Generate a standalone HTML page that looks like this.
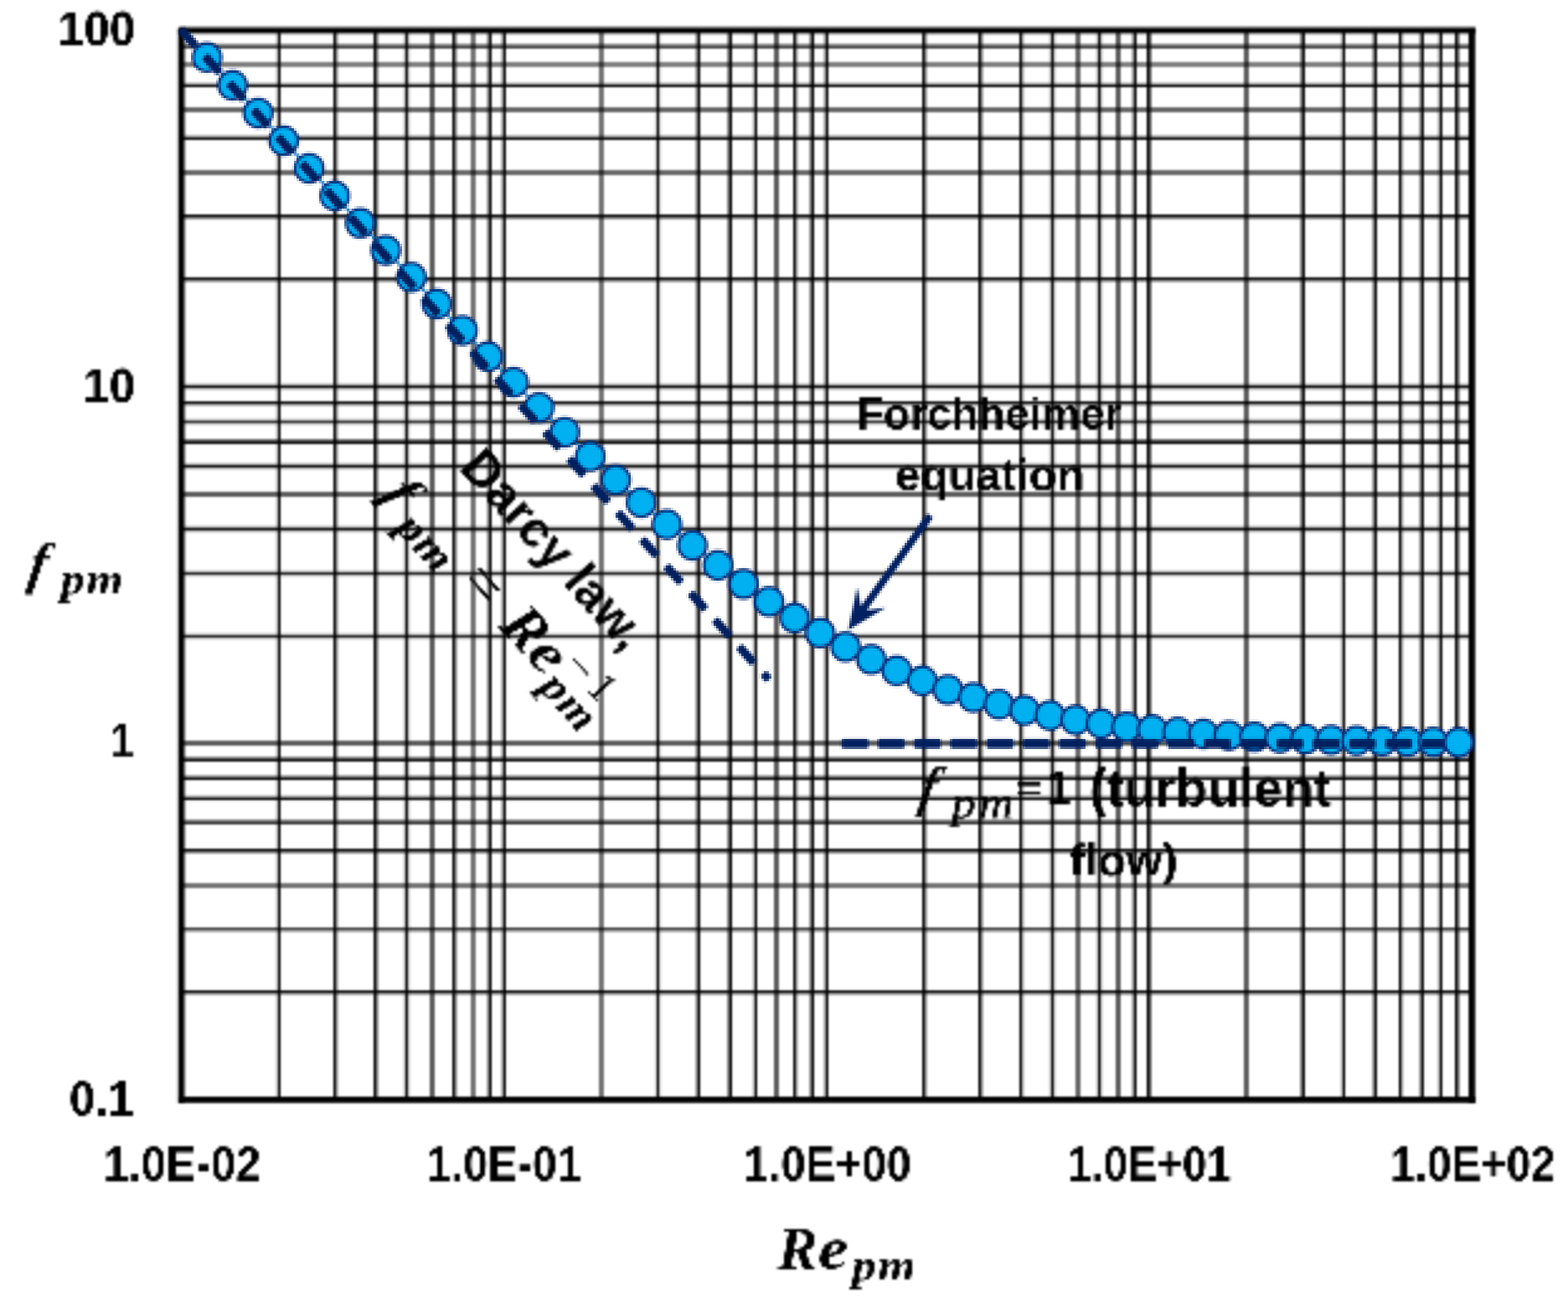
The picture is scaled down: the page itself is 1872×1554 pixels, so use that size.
<!DOCTYPE html>
<html lang="en"><head><meta charset="utf-8"><title>Friction factor vs Reynolds number in porous media</title>
<style>
html,body{margin:0;padding:0;background:#fff;}
body{width:1872px;height:1554px;overflow:hidden;}
svg{display:block;}
text{white-space:pre;}
.t{font-family:"Liberation Sans",sans-serif;font-weight:bold;fill:#000;}
.m{font-family:"Liberation Serif",serif;font-weight:bold;font-style:italic;fill:#000;}
.mi{font-family:"Liberation Serif",serif;font-weight:normal;font-style:italic;fill:#000;}
.mr{font-family:"Liberation Serif",serif;font-weight:normal;font-style:normal;fill:#000;}
.mb{font-family:"Liberation Serif",serif;font-weight:bold;font-style:normal;fill:#000;}
</style></head><body>
<svg xmlns="http://www.w3.org/2000/svg" width="1872" height="1554" viewBox="0 0 1872 1554">
<defs>
<clipPath id="plot"><rect x="216.70" y="36.20" width="1540.60" height="1276.70"/></clipPath>
<clipPath id="plotfull"><rect x="212.70" y="32.20" width="1548.60" height="1284.70"/></clipPath>
<filter id="lowres" x="204" y="24" width="1566" height="894" filterUnits="userSpaceOnUse" color-interpolation-filters="sRGB">
<feGaussianBlur in="SourceGraphic" stdDeviation="0.90" result="po"/>
<feFlood x="205" y="25" width="1" height="1" flood-color="#000" result="dot"/>
<feComposite in="dot" in2="dot" operator="over" x="204" y="24" width="3" height="3" result="cell"/>
<feTile in="cell" x="204" y="24" width="1566" height="894" result="grid"/>
<feComposite in="po" in2="grid" operator="in" result="samp"/>
<feMorphology in="samp" operator="dilate" radius="1" result="pix"/>
</filter>
<filter id="lowrest" x="0" y="0" width="1872" height="1554" filterUnits="userSpaceOnUse" color-interpolation-filters="sRGB">
<feFlood x="1" y="1" width="1" height="1" flood-color="#000" result="dot"/>
<feComposite in="dot" in2="dot" operator="over" x="0" y="0" width="3" height="3" result="cell"/>
<feTile in="cell" x="0" y="0" width="1872" height="1554" result="grid"/>
<feComposite in="SourceGraphic" in2="grid" operator="in" result="samp"/>
<feMorphology in="samp" operator="dilate" radius="1" result="pix"/>
<feGaussianBlur in="pix" stdDeviation="0.80" result="bl"/>
</filter>
<filter id="soft" x="204" y="24" width="1566" height="1302" filterUnits="userSpaceOnUse" color-interpolation-filters="sRGB">
<feGaussianBlur in="SourceGraphic" stdDeviation="0.80"/>
</filter>
</defs>
<rect x="0" y="0" width="1872" height="1554" fill="#fff"/>
<g id="gridlayer" filter="url(#soft)">
<g id="grid" fill="#000">
<rect x="216.70" y="1182.00" width="1540.60" height="3.00" fill-opacity="0.96"/>
<rect x="216.70" y="1185.00" width="1540.60" height="3.00" fill-opacity="0.35"/>
<rect x="216.70" y="1107.00" width="1540.60" height="3.00" fill-opacity="0.75"/>
<rect x="216.70" y="1110.00" width="1540.60" height="3.00" fill-opacity="0.30"/>
<rect x="216.70" y="1054.00" width="1540.60" height="6.00" fill-opacity="0.55"/>
<rect x="216.70" y="1013.00" width="1540.60" height="3.00" fill-opacity="0.96"/>
<rect x="216.70" y="1016.00" width="1540.60" height="3.00" fill-opacity="0.45"/>
<rect x="216.70" y="978.00" width="1540.60" height="3.00" fill-opacity="0.50"/>
<rect x="216.70" y="981.00" width="1540.60" height="3.00" fill-opacity="0.80"/>
<rect x="216.70" y="949.00" width="1540.60" height="3.00" fill-opacity="0.30"/>
<rect x="216.70" y="952.00" width="1540.60" height="3.00" fill-opacity="0.96"/>
<rect x="216.70" y="925.00" width="1540.60" height="3.00" fill-opacity="0.40"/>
<rect x="216.70" y="928.00" width="1540.60" height="3.00" fill-opacity="0.96"/>
<rect x="216.70" y="903.00" width="1540.60" height="3.00" fill-opacity="0.50"/>
<rect x="216.70" y="906.00" width="1540.60" height="3.00" fill-opacity="0.96"/>
<rect x="216.70" y="884.00" width="1540.60" height="6.00" fill-opacity="0.64"/>
<rect x="216.70" y="755.00" width="1540.60" height="3.00" fill-opacity="0.15"/>
<rect x="216.70" y="758.00" width="1540.60" height="3.00" fill-opacity="0.88"/>
<rect x="216.70" y="761.00" width="1540.60" height="3.00" fill-opacity="0.15"/>
<rect x="216.70" y="680.00" width="1540.60" height="3.00" fill-opacity="0.15"/>
<rect x="216.70" y="683.00" width="1540.60" height="3.00" fill-opacity="0.88"/>
<rect x="216.70" y="686.00" width="1540.60" height="3.00" fill-opacity="0.15"/>
<rect x="216.70" y="627.00" width="1540.60" height="3.00" fill-opacity="0.20"/>
<rect x="216.70" y="630.00" width="1540.60" height="3.00" fill-opacity="0.96"/>
<rect x="216.70" y="633.00" width="1540.60" height="3.00" fill-opacity="0.20"/>
<rect x="216.70" y="587.00" width="1540.60" height="6.00" fill-opacity="0.64"/>
<rect x="216.70" y="552.00" width="1540.60" height="3.00" fill-opacity="0.20"/>
<rect x="216.70" y="555.00" width="1540.60" height="3.00" fill-opacity="0.96"/>
<rect x="216.70" y="558.00" width="1540.60" height="3.00" fill-opacity="0.20"/>
<rect x="216.70" y="524.00" width="1540.60" height="3.00" fill-opacity="0.60"/>
<rect x="216.70" y="527.00" width="1540.60" height="3.00" fill-opacity="0.96"/>
<rect x="216.70" y="499.00" width="1540.60" height="3.00" fill-opacity="0.15"/>
<rect x="216.70" y="502.00" width="1540.60" height="3.00" fill-opacity="0.80"/>
<rect x="216.70" y="505.00" width="1540.60" height="3.00" fill-opacity="0.15"/>
<rect x="216.70" y="479.00" width="1540.60" height="3.00" fill-opacity="0.96"/>
<rect x="216.70" y="482.00" width="1540.60" height="3.00" fill-opacity="0.30"/>
<rect x="216.70" y="457.00" width="1540.60" height="3.00" fill-opacity="0.20"/>
<rect x="216.70" y="460.00" width="1540.60" height="3.00" fill-opacity="0.96"/>
<rect x="216.70" y="463.00" width="1540.60" height="3.00" fill-opacity="0.20"/>
<rect x="216.70" y="331.00" width="1540.60" height="3.00" fill-opacity="0.96"/>
<rect x="216.70" y="334.00" width="1540.60" height="3.00" fill-opacity="0.40"/>
<rect x="216.70" y="256.00" width="1540.60" height="3.00" fill-opacity="0.96"/>
<rect x="216.70" y="259.00" width="1540.60" height="3.00" fill-opacity="0.45"/>
<rect x="216.70" y="203.00" width="1540.60" height="6.00" fill-opacity="0.60"/>
<rect x="216.70" y="161.00" width="1540.60" height="3.00" fill-opacity="0.30"/>
<rect x="216.70" y="164.00" width="1540.60" height="3.00" fill-opacity="0.96"/>
<rect x="216.70" y="128.00" width="1540.60" height="6.00" fill-opacity="0.60"/>
<rect x="216.70" y="98.00" width="1540.60" height="3.00" fill-opacity="0.25"/>
<rect x="216.70" y="101.00" width="1540.60" height="3.00" fill-opacity="0.96"/>
<rect x="216.70" y="74.00" width="1540.60" height="6.00" fill-opacity="0.50"/>
<rect x="216.70" y="52.00" width="1540.60" height="3.00" fill-opacity="0.45"/>
<rect x="216.70" y="55.00" width="1540.60" height="3.00" fill-opacity="0.75"/>
<rect x="329.00" y="36.20" width="3.00" height="1276.70" fill-opacity="0.20"/>
<rect x="332.00" y="36.20" width="3.00" height="1276.70" fill-opacity="0.96"/>
<rect x="398.00" y="36.20" width="3.00" height="1276.70" fill-opacity="0.96"/>
<rect x="401.00" y="36.20" width="3.00" height="1276.70" fill-opacity="0.35"/>
<rect x="446.00" y="36.20" width="3.00" height="1276.70" fill-opacity="0.96"/>
<rect x="449.00" y="36.20" width="3.00" height="1276.70" fill-opacity="0.45"/>
<rect x="481.00" y="36.20" width="3.00" height="1276.70" fill-opacity="0.15"/>
<rect x="484.00" y="36.20" width="3.00" height="1276.70" fill-opacity="0.96"/>
<rect x="487.00" y="36.20" width="3.00" height="1276.70" fill-opacity="0.15"/>
<rect x="513.00" y="36.20" width="6.00" height="1276.70" fill-opacity="0.64"/>
<rect x="540.00" y="36.20" width="3.00" height="1276.70" fill-opacity="0.96"/>
<rect x="543.00" y="36.20" width="3.00" height="1276.70" fill-opacity="0.40"/>
<rect x="562.00" y="36.20" width="6.00" height="1276.70" fill-opacity="0.55"/>
<rect x="581.00" y="36.20" width="3.00" height="1276.70" fill-opacity="0.40"/>
<rect x="584.00" y="36.20" width="3.00" height="1276.70" fill-opacity="0.96"/>
<rect x="598.00" y="36.20" width="3.00" height="1276.70" fill-opacity="0.30"/>
<rect x="601.00" y="36.20" width="3.00" height="1276.70" fill-opacity="0.96"/>
<rect x="715.00" y="36.20" width="6.00" height="1276.70" fill-opacity="0.55"/>
<rect x="781.00" y="36.20" width="3.00" height="1276.70" fill-opacity="0.10"/>
<rect x="784.00" y="36.20" width="3.00" height="1276.70" fill-opacity="0.96"/>
<rect x="787.00" y="36.20" width="3.00" height="1276.70" fill-opacity="0.10"/>
<rect x="830.00" y="36.20" width="3.00" height="1276.70" fill-opacity="0.40"/>
<rect x="833.00" y="36.20" width="3.00" height="1276.70" fill-opacity="0.96"/>
<rect x="868.00" y="36.20" width="3.00" height="1276.70" fill-opacity="0.50"/>
<rect x="871.00" y="36.20" width="3.00" height="1276.70" fill-opacity="0.96"/>
<rect x="898.00" y="36.20" width="3.00" height="1276.70" fill-opacity="0.20"/>
<rect x="901.00" y="36.20" width="3.00" height="1276.70" fill-opacity="0.96"/>
<rect x="924.00" y="36.20" width="6.00" height="1276.70" fill-opacity="0.64"/>
<rect x="947.00" y="36.20" width="3.00" height="1276.70" fill-opacity="0.96"/>
<rect x="950.00" y="36.20" width="3.00" height="1276.70" fill-opacity="0.30"/>
<rect x="966.00" y="36.20" width="3.00" height="1276.70" fill-opacity="0.45"/>
<rect x="969.00" y="36.20" width="3.00" height="1276.70" fill-opacity="0.96"/>
<rect x="983.00" y="36.20" width="3.00" height="1276.70" fill-opacity="0.30"/>
<rect x="986.00" y="36.20" width="3.00" height="1276.70" fill-opacity="0.96"/>
<rect x="1101.00" y="36.20" width="3.00" height="1276.70" fill-opacity="0.96"/>
<rect x="1104.00" y="36.20" width="3.00" height="1276.70" fill-opacity="0.40"/>
<rect x="1168.00" y="36.20" width="3.00" height="1276.70" fill-opacity="0.96"/>
<rect x="1171.00" y="36.20" width="3.00" height="1276.70" fill-opacity="0.40"/>
<rect x="1217.00" y="36.20" width="3.00" height="1276.70" fill-opacity="0.96"/>
<rect x="1220.00" y="36.20" width="3.00" height="1276.70" fill-opacity="0.25"/>
<rect x="1252.00" y="36.20" width="3.00" height="1276.70" fill-opacity="0.15"/>
<rect x="1255.00" y="36.20" width="3.00" height="1276.70" fill-opacity="0.96"/>
<rect x="1258.00" y="36.20" width="3.00" height="1276.70" fill-opacity="0.15"/>
<rect x="1284.00" y="36.20" width="6.00" height="1276.70" fill-opacity="0.60"/>
<rect x="1308.00" y="36.20" width="3.00" height="1276.70" fill-opacity="0.15"/>
<rect x="1311.00" y="36.20" width="3.00" height="1276.70" fill-opacity="0.96"/>
<rect x="1314.00" y="36.20" width="3.00" height="1276.70" fill-opacity="0.15"/>
<rect x="1332.00" y="36.20" width="6.00" height="1276.70" fill-opacity="0.64"/>
<rect x="1351.00" y="36.20" width="3.00" height="1276.70" fill-opacity="0.35"/>
<rect x="1354.00" y="36.20" width="3.00" height="1276.70" fill-opacity="0.96"/>
<rect x="1369.00" y="36.20" width="3.00" height="1276.70" fill-opacity="0.96"/>
<rect x="1372.00" y="36.20" width="3.00" height="1276.70" fill-opacity="0.60"/>
<rect x="1485.00" y="36.20" width="6.00" height="1276.70" fill-opacity="0.64"/>
<rect x="1552.00" y="36.20" width="3.00" height="1276.70" fill-opacity="0.50"/>
<rect x="1555.00" y="36.20" width="3.00" height="1276.70" fill-opacity="0.96"/>
<rect x="1600.00" y="36.20" width="3.00" height="1276.70" fill-opacity="0.20"/>
<rect x="1603.00" y="36.20" width="3.00" height="1276.70" fill-opacity="0.96"/>
<rect x="1638.00" y="36.20" width="3.00" height="1276.70" fill-opacity="0.40"/>
<rect x="1641.00" y="36.20" width="3.00" height="1276.70" fill-opacity="0.96"/>
<rect x="1670.00" y="36.20" width="3.00" height="1276.70" fill-opacity="0.96"/>
<rect x="1673.00" y="36.20" width="3.00" height="1276.70" fill-opacity="0.25"/>
<rect x="1694.00" y="36.20" width="3.00" height="1276.70" fill-opacity="0.40"/>
<rect x="1697.00" y="36.20" width="3.00" height="1276.70" fill-opacity="0.96"/>
<rect x="1716.00" y="36.20" width="3.00" height="1276.70" fill-opacity="0.25"/>
<rect x="1719.00" y="36.20" width="3.00" height="1276.70" fill-opacity="0.96"/>
<rect x="1737.00" y="36.20" width="3.00" height="1276.70" fill-opacity="0.96"/>
<rect x="1740.00" y="36.20" width="3.00" height="1276.70" fill-opacity="0.50"/>
</g>
<g id="frame" fill="#000">
<rect x="213.20" y="31.30" width="1548.40" height="2.50" fill-opacity="0.50"/>
<rect x="213.20" y="33.80" width="1548.40" height="5.30" fill-opacity="1.00"/>
<rect x="213.20" y="39.10" width="1548.40" height="2.50" fill-opacity="0.35"/>
<rect x="213.20" y="1308.90" width="1548.40" height="5.10" fill-opacity="1.00"/>
<rect x="213.20" y="1314.00" width="1548.40" height="2.70" fill-opacity="0.90"/>
<rect x="210.30" y="33.80" width="2.90" height="1282.90" fill-opacity="0.15"/>
<rect x="213.20" y="33.80" width="5.80" height="1282.90" fill-opacity="1.00"/>
<rect x="219.00" y="33.80" width="2.50" height="1282.90" fill-opacity="0.55"/>
<rect x="1753.30" y="33.80" width="5.70" height="1282.90" fill-opacity="1.00"/>
<rect x="1759.00" y="33.80" width="2.60" height="1282.90" fill-opacity="0.85"/>
</g>
</g>
<g id="series" filter="url(#lowres)">
<g clip-path="url(#plot)"><polyline id="sline" fill="none" stroke="#0070c0" stroke-width="3" points="216.70,35.16 247.20,68.49 277.69,101.75 308.19,134.92 338.69,167.99 369.18,200.94 399.68,233.74 430.18,266.37 460.67,298.79 491.17,330.97 521.67,362.87 552.16,394.42 582.66,425.58 613.16,456.27 643.65,486.43 674.15,515.97 704.65,544.80 735.14,572.81 765.64,599.92 796.14,626.00 826.63,650.96 857.13,674.69 887.63,697.09 918.12,718.08 948.62,737.61 979.12,755.62 1009.61,772.10 1040.11,787.05 1070.61,800.50 1101.10,812.52 1131.60,823.16 1162.10,832.52 1192.59,840.71 1223.09,847.81 1253.59,853.95 1284.08,859.23 1314.58,863.74 1345.08,867.59 1375.57,870.86 1406.07,873.63 1436.57,875.97 1467.06,877.94 1497.56,879.60 1528.06,881.00 1558.55,882.17 1589.05,883.15 1619.55,883.97 1650.04,884.66 1680.54,885.23 1711.04,885.71 1741.53,886.11"/></g>
<g id="markers" fill="#00b0f0" stroke="#002a78" stroke-width="3.40">
<circle cx="247.20" cy="68.49" r="16.80"/>
<circle cx="277.69" cy="101.75" r="16.80"/>
<circle cx="308.19" cy="134.92" r="16.80"/>
<circle cx="338.69" cy="167.99" r="16.80"/>
<circle cx="369.18" cy="200.94" r="16.80"/>
<circle cx="399.68" cy="233.74" r="16.80"/>
<circle cx="430.18" cy="266.37" r="16.80"/>
<circle cx="460.67" cy="298.79" r="16.80"/>
<circle cx="491.17" cy="330.97" r="16.80"/>
<circle cx="521.67" cy="362.87" r="16.80"/>
<circle cx="552.16" cy="394.42" r="16.80"/>
<circle cx="582.66" cy="425.58" r="16.80"/>
<circle cx="613.16" cy="456.27" r="16.80"/>
<circle cx="643.65" cy="486.43" r="16.80"/>
<circle cx="674.15" cy="515.97" r="16.80"/>
<circle cx="704.65" cy="544.80" r="16.80"/>
<circle cx="735.14" cy="572.81" r="16.80"/>
<circle cx="765.64" cy="599.92" r="16.80"/>
<circle cx="796.14" cy="626.00" r="16.80"/>
<circle cx="826.63" cy="650.96" r="16.80"/>
<circle cx="857.13" cy="674.69" r="16.80"/>
<circle cx="887.63" cy="697.09" r="16.80"/>
<circle cx="918.12" cy="718.08" r="16.80"/>
<circle cx="948.62" cy="737.61" r="16.80"/>
<circle cx="979.12" cy="755.62" r="16.80"/>
<circle cx="1009.61" cy="772.10" r="16.80"/>
<circle cx="1040.11" cy="787.05" r="16.80"/>
<circle cx="1070.61" cy="800.50" r="16.80"/>
<circle cx="1101.10" cy="812.52" r="16.80"/>
<circle cx="1131.60" cy="823.16" r="16.80"/>
<circle cx="1162.10" cy="832.52" r="16.80"/>
<circle cx="1192.59" cy="840.71" r="16.80"/>
<circle cx="1223.09" cy="847.81" r="16.80"/>
<circle cx="1253.59" cy="853.95" r="16.80"/>
<circle cx="1284.08" cy="859.23" r="16.80"/>
<circle cx="1314.58" cy="863.74" r="16.80"/>
<circle cx="1345.08" cy="867.59" r="16.80"/>
<circle cx="1375.57" cy="870.86" r="16.80"/>
<circle cx="1406.07" cy="873.63" r="16.80"/>
<circle cx="1436.57" cy="875.97" r="16.80"/>
<circle cx="1467.06" cy="877.94" r="16.80"/>
<circle cx="1497.56" cy="879.60" r="16.80"/>
<circle cx="1528.06" cy="881.00" r="16.80"/>
<circle cx="1558.55" cy="882.17" r="16.80"/>
<circle cx="1589.05" cy="883.15" r="16.80"/>
<circle cx="1619.55" cy="883.97" r="16.80"/>
<circle cx="1650.04" cy="884.66" r="16.80"/>
<circle cx="1680.54" cy="885.23" r="16.80"/>
<circle cx="1711.04" cy="885.71" r="16.80"/>
<circle cx="1741.53" cy="886.11" r="16.80"/>
</g>
<g id="darcy" fill="#002060" clip-path="url(#plotfull)"><g transform="translate(216.70,36.20) rotate(47.854)">
<rect x="-1.80" y="-5.10" width="27.00" height="10.20" rx="2.50"/>
<rect x="41.40" y="-5.10" width="27.00" height="10.20" rx="2.50"/>
<rect x="84.60" y="-5.10" width="27.00" height="10.20" rx="2.50"/>
<rect x="127.80" y="-5.10" width="27.00" height="10.20" rx="2.50"/>
<rect x="171.00" y="-5.10" width="27.00" height="10.20" rx="2.50"/>
<rect x="214.20" y="-5.10" width="27.00" height="10.20" rx="2.50"/>
<rect x="257.40" y="-5.10" width="27.00" height="10.20" rx="2.50"/>
<rect x="300.60" y="-5.10" width="27.00" height="10.20" rx="2.50"/>
<rect x="343.80" y="-5.10" width="27.00" height="10.20" rx="2.50"/>
<rect x="387.00" y="-5.10" width="27.00" height="10.20" rx="2.50"/>
<rect x="430.20" y="-5.10" width="27.00" height="10.20" rx="2.50"/>
<rect x="473.40" y="-5.10" width="27.00" height="10.20" rx="2.50"/>
<rect x="516.60" y="-5.10" width="27.00" height="10.20" rx="2.50"/>
<rect x="559.80" y="-5.10" width="27.00" height="10.20" rx="2.50"/>
<rect x="603.00" y="-5.10" width="27.00" height="10.20" rx="2.50"/>
<rect x="646.20" y="-5.10" width="27.00" height="10.20" rx="2.50"/>
<rect x="689.40" y="-5.10" width="27.00" height="10.20" rx="2.50"/>
<rect x="732.60" y="-5.10" width="27.00" height="10.20" rx="2.50"/>
<rect x="775.80" y="-5.10" width="27.00" height="10.20" rx="2.50"/>
<rect x="819.00" y="-5.10" width="27.00" height="10.20" rx="2.50"/>
<rect x="862.20" y="-5.10" width="27.00" height="10.20" rx="2.50"/>
<rect x="905.40" y="-5.10" width="27.00" height="10.20" rx="2.50"/>
<rect x="948.60" y="-5.10" width="27.00" height="10.20" rx="2.50"/>
<rect x="991.80" y="-5.10" width="27.00" height="10.20" rx="2.50"/>
<rect x="1035.00" y="-5.10" width="10.31" height="10.20" rx="2.50"/>
</g></g>
<g id="turb" fill="#002060">
<rect x="1004.80" y="882.03" width="32.00" height="11.20" rx="2.50"/>
<rect x="1048.07" y="882.03" width="32.00" height="11.20" rx="2.50"/>
<rect x="1091.34" y="882.03" width="32.00" height="11.20" rx="2.50"/>
<rect x="1134.61" y="882.03" width="32.00" height="11.20" rx="2.50"/>
<rect x="1177.88" y="882.03" width="32.00" height="11.20" rx="2.50"/>
<rect x="1221.15" y="882.03" width="32.00" height="11.20" rx="2.50"/>
<rect x="1264.42" y="882.03" width="32.00" height="11.20" rx="2.50"/>
<rect x="1307.69" y="882.03" width="32.00" height="11.20" rx="2.50"/>
<rect x="1350.96" y="882.03" width="32.00" height="11.20" rx="2.50"/>
<rect x="1394.23" y="882.03" width="32.00" height="11.20" rx="2.50"/>
<rect x="1437.50" y="882.03" width="32.00" height="11.20" rx="2.50"/>
<rect x="1480.77" y="882.03" width="32.00" height="11.20" rx="2.50"/>
<rect x="1524.04" y="882.03" width="32.00" height="11.20" rx="2.50"/>
<rect x="1567.31" y="882.03" width="32.00" height="11.20" rx="2.50"/>
<rect x="1610.58" y="882.03" width="32.00" height="11.20" rx="2.50"/>
<rect x="1653.85" y="882.03" width="32.00" height="11.20" rx="2.50"/>
<rect x="1697.12" y="882.03" width="32.00" height="11.20" rx="2.50"/>
</g>
<circle cx="1741.53" cy="886.11" r="16.80" fill="#00b0f0" stroke="#002a78" stroke-width="3.40"/>
<line id="arrowshaft" x1="1110.50" y1="615.20" x2="1028.90" y2="729.23" stroke="#002060" stroke-width="8.60"/>
<polygon id="arrowhead" fill="#002060" points="1012.60,752.00 1023.46,700.74 1028.90,729.23 1057.61,725.19"/>
</g>
<g id="labels" filter="url(#lowrest)">
<text class="t" x="69.46" y="54.20" font-size="56.80" text-anchor="start" transform="translate(69.46,54.20) scale(0.9716,1.0000) translate(-69.46,-54.20)">100</text>
<text class="t" x="99.51" y="480.50" font-size="56.80" text-anchor="start" transform="translate(99.51,480.50) scale(0.9794,1.0000) translate(-99.51,-480.50)">10</text>
<text class="t" x="131.06" y="904.50" font-size="56.80" text-anchor="start" transform="translate(131.06,904.50) scale(0.9006,1.0000) translate(-131.06,-904.50)">1</text>
<text class="t" x="82.68" y="1331.10" font-size="56.80" text-anchor="start" transform="translate(82.68,1331.10) scale(0.9739,1.0000) translate(-82.68,-1331.10)">0.1</text>
<text class="t" x="123.80" y="1409.30" font-size="56.80" text-anchor="start" transform="translate(123.80,1409.30) scale(0.9433,1.0000) translate(-123.80,-1409.30)">1.0E-02</text>
<text class="t" x="508.88" y="1409.30" font-size="56.80" text-anchor="start" transform="translate(508.88,1409.30) scale(0.9324,1.0000) translate(-508.88,-1409.30)">1.0E-01</text>
<text class="t" x="887.66" y="1409.30" font-size="56.80" text-anchor="start" transform="translate(887.66,1409.30) scale(0.9402,1.0000) translate(-887.66,-1409.30)">1.0E+00</text>
<text class="t" x="1274.02" y="1409.30" font-size="56.80" text-anchor="start" transform="translate(1274.02,1409.30) scale(0.9184,1.0000) translate(-1274.02,-1409.30)">1.0E+01</text>
<text class="t" x="1659.91" y="1409.30" font-size="56.80" text-anchor="start" transform="translate(1659.91,1409.30) scale(0.9243,1.0000) translate(-1659.91,-1409.30)">1.0E+02</text>
<text class="t" x="1022.88" y="511.60" font-size="54.50" text-anchor="start" transform="translate(1022.88,511.60) scale(0.9578,1.0000) translate(-1022.88,-511.60)">Forchheimer</text>
<text class="t" x="1068.53" y="585.10" font-size="54.50" text-anchor="start" transform="translate(1068.53,585.10) scale(0.9969,1.0000) translate(-1068.53,-585.10)">equation</text>
<text class="mi" transform="translate(1095.50,961.30) skewX(-10.00)" font-size="65.50" stroke="#000" stroke-width="2.00" stroke-linejoin="round">f</text>
<text class="mi" transform="translate(1136.00,976.30) scale(1.1000,1)" font-size="52.00" letter-spacing="3.50" stroke="#000" stroke-width="0.80" stroke-linejoin="round">pm</text>
<text class="t" x="1213.22" y="956.50" font-size="55.00" text-anchor="start" transform="translate(1213.22,956.50) scale(0.9982,0.7600) translate(-1213.22,-956.50)">=</text>
<text class="t" x="1249.60" y="961.00" font-size="59.00" text-anchor="start" transform="translate(1249.60,961.00) scale(0.8773,1.0000) translate(-1249.60,-961.00)">1</text>
<text class="t" x="1300.52" y="961.80" font-size="63.00" text-anchor="start" transform="translate(1300.52,961.80) scale(0.9823,1.0000) translate(-1300.52,-961.80)">(turbulent</text>
<text class="t" x="1276.44" y="1045.00" font-size="54.50" text-anchor="start" transform="translate(1276.44,1045.00) scale(1.0210,1.0000) translate(-1276.44,-1045.00)">flow)</text>
<g transform="translate(549.80,562.10) rotate(48.00)">
<text class="t" transform="translate(-3.90,0.00)" font-size="60.30">Darcy law,</text>
</g>
<g transform="translate(549.80,562.10) rotate(48.00)">
<text class="m" transform="translate(-43.00,91.00) skewX(-9.00)" font-size="68.00">f</text>
</g>
<g transform="translate(549.80,562.10) rotate(48.00)">
<text class="m" transform="translate(-2.00,104.70) scale(1.0800,1)" font-size="52.50" letter-spacing="2.00">pm</text>
</g>
<g transform="translate(549.80,562.10) rotate(48.00)">
<text class="mr" transform="translate(97.80,94.40)" font-size="76.00">=</text>
</g>
<g transform="translate(549.80,562.10) rotate(48.00)">
<text class="m" transform="translate(168.00,91.00)" font-size="71.50">R</text>
</g>
<g transform="translate(549.80,562.10) rotate(48.00)">
<text class="m" transform="translate(215.40,91.00) scale(1.1200,1)" font-size="71.50">e</text>
</g>
<g transform="translate(549.80,562.10) rotate(48.00)">
<text class="m" transform="translate(254.00,104.50) scale(1.0800,1)" font-size="52.50" letter-spacing="2.00">pm</text>
</g>
<g transform="translate(549.80,562.10) rotate(48.00)">
<text class="mr" transform="translate(253.00,66.40) scale(1.1800,1)" font-size="50.00">−</text>
</g>
<g transform="translate(549.80,562.10) rotate(48.00)">
<text class="mr" transform="translate(292.90,63.30)" font-size="51.00">1</text>
</g>
<text class="m" transform="translate(31.50,695.00) skewX(-9.00)" font-size="68.00">f</text>
<text class="m" transform="translate(72.50,708.90) scale(1.0800,1)" font-size="52.50" letter-spacing="2.00">pm</text>
<text class="m" transform="translate(928.50,1514.40)" font-size="71.50">R</text>
<text class="m" transform="translate(977.00,1514.40) scale(1.1200,1)" font-size="71.50">e</text>
<text class="m" transform="translate(1017.00,1527.70) scale(1.1000,1)" font-size="52.50" letter-spacing="2.00">pm</text>
</g>
</svg></body></html>
